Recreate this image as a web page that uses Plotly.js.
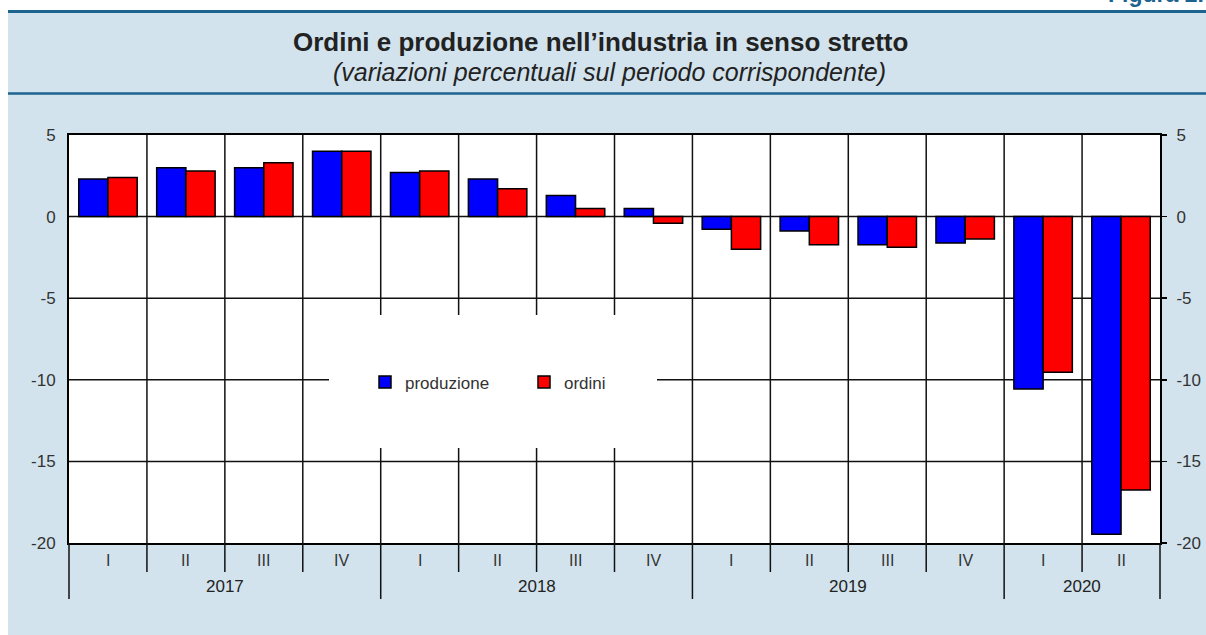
<!DOCTYPE html>
<html><head><meta charset="utf-8">
<script src="https://cdn.plot.ly/plotly-3.0.1.min.js"></script>
<style>html,body{margin:0;padding:0;background:#fff}</style>
</head><body><div id="chart" style="width:1206px;height:635px"></div>
<script>
// ---- data ----
const quarters = ['I','II','III','IV','I','II','III','IV','I','II','III','IV','I','II'];
const years = ['2017','2018','2019','2020'];
const quartersPerYear = [4,4,4,2];
const produzione = [2.3,3.0,3.0,4.0,2.7,2.3,1.3,0.5,-0.78,-0.88,-1.72,-1.62,-10.56,-19.47];
const ordini = [2.4,2.8,3.3,4.0,2.8,1.7,0.5,-0.4,-2.0,-1.72,-1.88,-1.37,-9.54,-16.75];
const yTicks = [5,0,-5,-10,-15,-20];
const titleText = '<b>Ordini e produzione nell\u2019industria in senso stretto</b>';
const subtitleText = '<i>(variazioni percentuali sul periodo corrispondente)</i>';

// ---- geometry helpers ----
const W=1206,H=635,L=69,R=1160,T=135,B=543;
const N = quarters.length;
const px2x = p => (p-L)/(R-L);
const px2y = p => (B-p)/(B-T);
const px2dx = p => -0.5 + (p-L)/(R-L)*N;
const px2dy = p => 5 - (p-T)/(B-T)*25;
const idx = quarters.map((_,i)=>i);

const FONT = 'Liberation Sans, Arial, sans-serif';
const DARK = '#1d6390';
const BG = '#d2e3ed';
const GRID = '#111';

const shapes = [];
shapes.push({type:'rect',xref:'paper',yref:'paper',x0:px2x(-5),x1:px2x(W+5),y0:px2y(10),y1:px2y(-5),fillcolor:'#fff',line:{width:0},layer:'below'});
shapes.push({type:'rect',xref:'paper',yref:'paper',x0:px2x(-5),x1:px2x(8),y0:px2y(H+5),y1:px2y(-5),fillcolor:'#fff',line:{width:0},layer:'below'});
shapes.push({type:'line',xref:'paper',yref:'paper',x0:px2x(8),x1:px2x(W+5),y0:px2y(11.5),y1:px2y(11.5),line:{color:DARK,width:3}});
shapes.push({type:'line',xref:'paper',yref:'paper',x0:px2x(8),x1:px2x(W+5),y0:px2y(93.5),y1:px2y(93.5),line:{color:DARK,width:2.5}});
for(let k=0;k<N-1;k++){
  shapes.push({type:'line',xref:'x',yref:'y',x0:k+0.5,x1:k+0.5,y0:-20,y1:5,line:{color:GRID,width:1.5},layer:'below'});
}
[0,-5,-10,-15].forEach(v=>{
  shapes.push({type:'line',xref:'x',yref:'y',x0:-0.5,x1:N-0.5,y0:v,y1:v,line:{color:GRID,width:1.5},layer:'below'});
});
shapes.push({type:'rect',xref:'x',yref:'y',x0:px2dx(329),x1:px2dx(657),y0:px2dy(448),y1:px2dy(315),fillcolor:'#fff',line:{width:0},layer:'below'});
const yearStarts = [0];
quartersPerYear.forEach(c=>yearStarts.push(yearStarts[yearStarts.length-1]+c));
for(let k=0;k<=N;k++){
  const isYear = yearStarts.includes(k);
  shapes.push({type:'line',xref:'paper',yref:'paper',x0:k/N,x1:k/N,y0:0,y1:px2y(isYear?599:572),line:{color:GRID,width:1.5}});
}

const annotations = [];
annotations.push({xref:'paper',yref:'paper',x:px2x(600),y:px2y(42),text:titleText,showarrow:false,xanchor:'center',yanchor:'middle',font:{family:FONT,size:26,color:'#222'}});
annotations.push({xref:'paper',yref:'paper',x:px2x(609),y:px2y(72),text:subtitleText,showarrow:false,xanchor:'center',yanchor:'middle',font:{family:FONT,size:25,color:'#222'}});
annotations.push({xref:'paper',yref:'paper',x:px2x(1106),y:px2y(9),text:'<b>Figura 2.</b>',showarrow:false,xanchor:'left',yanchor:'bottom',font:{family:FONT,size:23,color:DARK}});
quarters.forEach((q,i)=>{
  annotations.push({xref:'paper',yref:'paper',x:(i+0.5)/N,y:px2y(560),text:q,showarrow:false,xanchor:'center',yanchor:'middle',font:{family:FONT,size:16,color:'#333'}});
});
years.forEach((yr,j)=>{
  const c = (yearStarts[j]+yearStarts[j+1])/2/N;
  annotations.push({xref:'paper',yref:'paper',x:c,y:px2y(586),text:yr,showarrow:false,xanchor:'center',yanchor:'middle',font:{family:FONT,size:17,color:'#222'}});
});

const data = [
  {type:'bar',x:idx,y:produzione,name:'produzione',marker:{color:'#0000ff',line:{color:'#000',width:1.5}},hoverinfo:'y'},
  {type:'bar',x:idx,y:ordini,name:'ordini',marker:{color:'#ff0000',line:{color:'#000',width:1.5}},hoverinfo:'y'},
  {type:'scatter',x:[],y:[],yaxis:'y2',showlegend:false,hoverinfo:'skip'}
];

const layout = {
  width:W,height:H,
  margin:{l:L,r:W-R,t:T,b:H-B,pad:0},
  paper_bgcolor:BG, plot_bgcolor:'#fff',
  font:{family:FONT,size:16,color:'#333'},
  barmode:'group',bargap:0.25,bargroupgap:0,
  xaxis:{range:[-0.5,N-0.5],showticklabels:false,showgrid:false,zeroline:false,showline:true,mirror:true,linecolor:'#000',linewidth:2,ticks:'',fixedrange:true},
  yaxis:{range:[-20,5],tickvals:yTicks,ticktext:yTicks.map(String),showgrid:false,zeroline:false,showline:true,mirror:true,linecolor:'#000',linewidth:2,ticks:'',ticklabelstandoff:8,tickfont:{family:FONT,size:17,color:'#333'},fixedrange:true},
  yaxis2:{range:[-20,5],overlaying:'y',side:'right',tickvals:yTicks,ticktext:yTicks.map(String),showgrid:false,zeroline:false,showline:false,ticks:'outside',ticklen:6,tickwidth:1.5,tickcolor:'#000',ticklabelstandoff:6,tickfont:{family:FONT,size:17,color:'#333'},fixedrange:true},
  showlegend:true,
  legend:{orientation:'h',x:px2x(365),y:px2y(382.5),xanchor:'left',yanchor:'middle',bgcolor:'rgba(0,0,0,0)',borderwidth:0,font:{family:FONT,size:17,color:'#333'},entrywidth:114,itemclick:false,itemdoubleclick:false},
  shapes:shapes,
  annotations:annotations
};
Plotly.newPlot('chart',data,layout,{displayModeBar:false,staticPlot:true});
</script></body></html>
